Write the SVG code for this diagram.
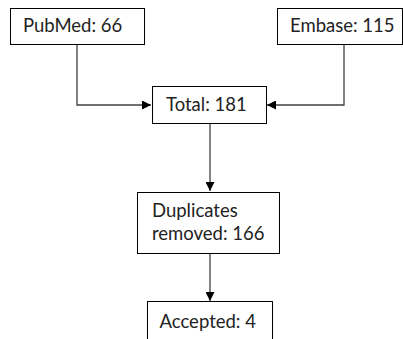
<svg xmlns="http://www.w3.org/2000/svg" width="403" height="339" viewBox="0 0 403 339">
<defs>
<style>
.box{fill:#fff;stroke:#000;stroke-width:1}
.t{font-family:Lato,"Open Sans","Liberation Sans",sans-serif;font-size:18.5px;fill:#222}
.c{fill:none;stroke:#404040;stroke-width:1.3}
</style>
<marker id="ah" viewBox="0 0 10 10" refX="10" refY="5" markerWidth="9" markerHeight="9" markerUnits="userSpaceOnUse" orient="auto">
<path d="M0,0 L10,5 L0,10 z" fill="#000"/>
</marker>
</defs>
<rect width="403" height="339" fill="#fff"/>
<g id="connectors">
<path class="c" d="M77,45 V105 H151" marker-end="url(#ah)"/>
<path class="c" d="M344,44 V105 H267" marker-end="url(#ah)"/>
<path class="c" d="M210,123 V191" marker-end="url(#ah)"/>
<path class="c" d="M210,253 V301" marker-end="url(#ah)"/>
</g>
<g id="pubmed">
<rect class="box" x="10.5" y="8.5" width="134" height="36"/>
<text class="t" x="23" y="32">PubMed: 66</text>
</g>
<g id="embase">
<rect class="box" x="277.5" y="8.5" width="125" height="36"/>
<text class="t" x="290" y="32">Embase: 115</text>
</g>
<g id="total">
<rect class="box" x="152.5" y="86.5" width="114" height="37"/>
<text class="t" x="166" y="110.5">Total: 181</text>
</g>
<g id="duplicates">
<rect class="box" x="137.5" y="192.5" width="142" height="61"/>
<text class="t" x="152" y="217">Duplicates</text>
<text class="t" x="152" y="240">removed: 166</text>
</g>
<g id="accepted">
<rect class="box" x="147.5" y="301.5" width="125" height="50"/>
<text class="t" x="159.5" y="327.5">Accepted: 4</text>
</g>
</svg>
